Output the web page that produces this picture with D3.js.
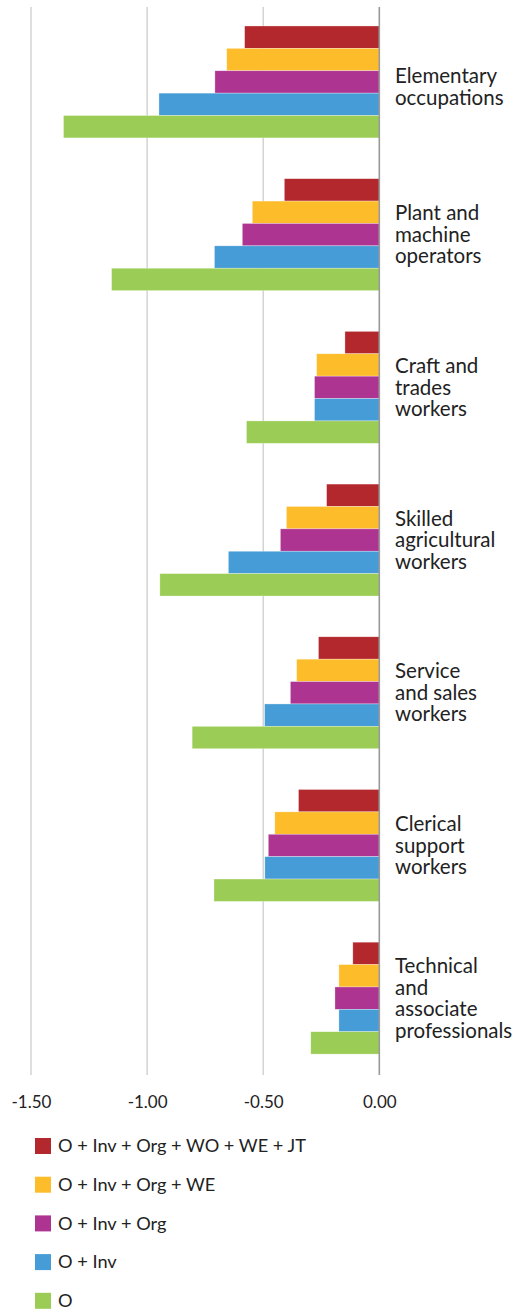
<!DOCTYPE html>
<html><head><meta charset="utf-8">
<script src="https://cdn.jsdelivr.net/npm/d3@7"></script>
<style>body{margin:0;background:#fff}svg{display:block}text{font-family:Lato,"Noto Sans",sans-serif;fill:#222}</style>
</head><body><svg id="c" width="526" height="1310"></svg>
<script>
const categories = [
  ["Elementary","occupations"],
  ["Plant and","machine","operators"],
  ["Craft and","trades","workers"],
  ["Skilled","agricultural","workers"],
  ["Service","and sales","workers"],
  ["Clerical","support","workers"],
  ["Technical","and","associate","professionals"]
];
const seriesNames = ["O + Inv + Org + WO + WE + JT","O + Inv + Org + WE","O + Inv + Org","O + Inv","O"];
const seriesColors = ["#B2282D","#FDBC2A","#AE3492","#469CD6","#9BCC55"];
const sFull   = [-0.58,-0.409,-0.148,-0.227,-0.262,-0.348,-0.114];
const sWE     = [-0.657,-0.547,-0.27,-0.400,-0.356,-0.450,-0.174];
const sOrg    = [-0.708,-0.590,-0.279,-0.426,-0.383,-0.478,-0.191];
const sInv    = [-0.949,-0.710,-0.279,-0.650,-0.494,-0.493,-0.174];
const sO      = [-1.36,-1.153,-0.572,-0.945,-0.806,-0.712,-0.295];
const seriesValues = [sFull,sWE,sOrg,sInv,sO];
const tickValues = [-1.5,-1.0,-0.5,0];

const svg = d3.select("#c");
const x = d3.scaleLinear().domain([-1.5,0]).range([31,379.3]);
const idx = d3.range(categories.length);
const y = d3.scaleBand().domain(idx).range([5.6,1074.5]).paddingInner(0.267).paddingOuter(0.1335);
const yi = d3.scaleBand().domain(d3.range(seriesNames.length)).range([0,y.bandwidth()]);

// gridlines
svg.append("g").selectAll("line").data(tickValues.slice(0,3)).join("line")
  .attr("x1",d=>x(d)).attr("x2",d=>x(d)).attr("y1",7).attr("y2",1075)
  .attr("stroke","#c8c8c8").attr("stroke-width",1.2);

// bars
const g = svg.append("g");
seriesValues.forEach((vals,si)=>{
  g.selectAll(null).data(vals).join("rect")
    .attr("x",d=>x(d)).attr("width",d=>x(0)-x(d))
    .attr("y",(d,i)=>y(i)+yi(si)).attr("height",yi.bandwidth())
    .attr("fill",seriesColors[si]).attr("stroke","rgba(255,255,255,0.5)").attr("stroke-width",0.6);
});

// zero line
svg.append("line").attr("x1",x(0)).attr("x2",x(0)).attr("y1",7).attr("y2",1075)
  .attr("stroke","#999").attr("stroke-width",1.6);

// category labels
const lab = svg.append("g").selectAll("text").data(categories).join("text")
  .attr("x",395).attr("font-size",20.5);
lab.each(function(lines,i){
  const cy = y(i)+y.bandwidth()/2;
  const lh = 21.5;
  const y0 = cy - (lines.length-1)*lh/2 + (lines.length===2?5:0);
  d3.select(this).selectAll("tspan").data(lines).join("tspan")
    .attr("x",395).attr("y",(d,j)=>y0+j*lh).attr("dy","0.35em").text(d=>d);
});

// x axis tick labels
const axis = d3.axisBottom(x).tickValues(tickValues).tickFormat(d=>d3.format(".2f")(d).replace("\u2212","-")).tickSize(0);
const ag = svg.append("g").attr("transform","translate(0,1093)").call(axis);
ag.select(".domain").remove();
ag.selectAll("text").attr("font-size",17).attr("font-family","Lato, 'Noto Sans', sans-serif").attr("fill","#222");

// legend
const lg = svg.append("g").selectAll("g").data(seriesNames).join("g")
  .attr("transform",(d,i)=>`translate(35,${1146+i*38.7})`);
lg.append("rect").attr("x",0).attr("y",-8).attr("width",16).attr("height",16).attr("fill",(d,i)=>seriesColors[i]);
lg.append("text").attr("x",23).attr("y",0).attr("dy","0.35em").attr("font-size",18.2).text(d=>d);
</script></body></html>
